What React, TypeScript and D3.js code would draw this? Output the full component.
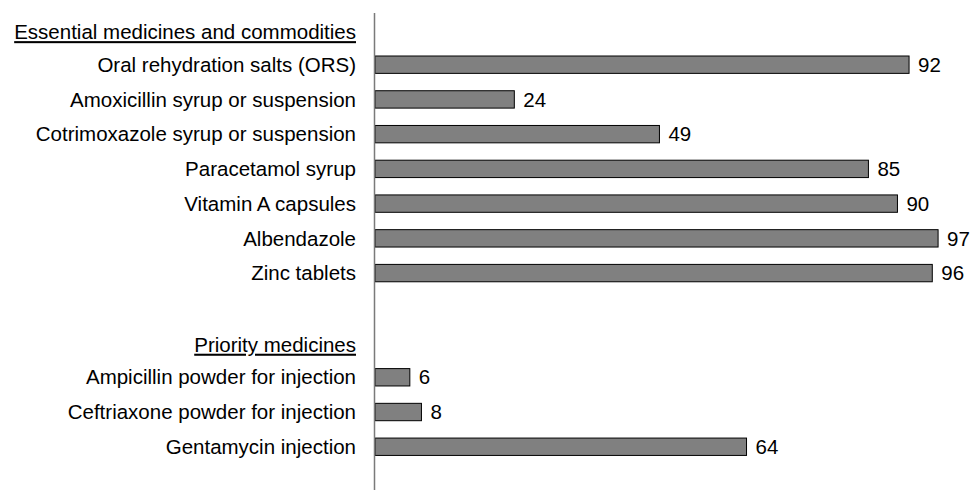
import React from "react";
import * as d3 from "d3";

const essentialCategories = [
  "Oral rehydration salts (ORS)",
  "Amoxicillin syrup or suspension",
  "Cotrimoxazole syrup or suspension",
  "Paracetamol syrup",
  "Vitamin A capsules",
  "Albendazole",
  "Zinc tablets",
];
const essentialValues = [92, 24, 49, 85, 90, 97, 96];

const priorityCategories = [
  "Ampicillin powder for injection",
  "Ceftriaxone powder for injection",
  "Gentamycin injection",
];
const priorityValues = [6, 8, 64];

const groupHeaders = ["Essential medicines and commodities", "Priority medicines"];

const W = 970;
const H = 490;
const FONT = "'Liberation Sans', Arial, Helvetica, sans-serif";
const FS = 20.5;

export default function App() {
  const rows: { key: string; label: string; value: number | null; header: boolean }[] = [
    { key: "h0", label: groupHeaders[0], value: null, header: true },
    ...essentialCategories.map((c, i) => ({ key: c, label: c, value: essentialValues[i], header: false })),
    { key: "gap", label: "", value: null, header: false },
    { key: "h1", label: groupHeaders[1], value: null, header: true },
    ...priorityCategories.map((c, i) => ({ key: c, label: c, value: priorityValues[i], header: false })),
  ];

  const y = d3
    .scaleBand<string>()
    .domain(rows.map((r) => r.key))
    .range([3.9, 472.8])
    .paddingInner(0.5)
    .paddingOuter(0.5);

  const x = d3.scaleLinear().domain([0, 100]).range([375, 955.5]);
  const bw = y.bandwidth();

  return (
    <svg
      width={W}
      height={H}
      style={{ position: "absolute", left: 0, top: 0, background: "#fff" }}
      fontFamily={FONT}
      fontSize={FS}
    >
      {rows.map((r) => {
        const y0 = y(r.key)!;
        if (r.header) {
          return (
            <text
              key={r.key}
              x={x(0) - 19}
              y={y0 + bw + 0.5}
              textAnchor="end"
              fill="#000"
              textDecoration="underline"
            >
              {r.label}
            </text>
          );
        }
        if (r.value === null) return null;
        return (
          <g key={r.key}>
            <text x={x(0) - 19} y={y0 + bw / 2} dy="0.35em" textAnchor="end" fill="#000">
              {r.label}
            </text>
            <rect
              x={x(0)}
              y={y0}
              width={x(r.value) - x(0)}
              height={bw}
              fill="#808080"
              stroke="#000"
              strokeWidth={1}
            />
            <text x={x(r.value) + 9} y={y0 + bw / 2} dy="0.35em" textAnchor="start" fill="#000">
              {r.value}
            </text>
          </g>
        );
      })}
      <line x1={x(0) - 0.5} x2={x(0) - 0.5} y1={13} y2={H} stroke="#7a7a7a" strokeWidth={1.5} />
    </svg>
  );
}
